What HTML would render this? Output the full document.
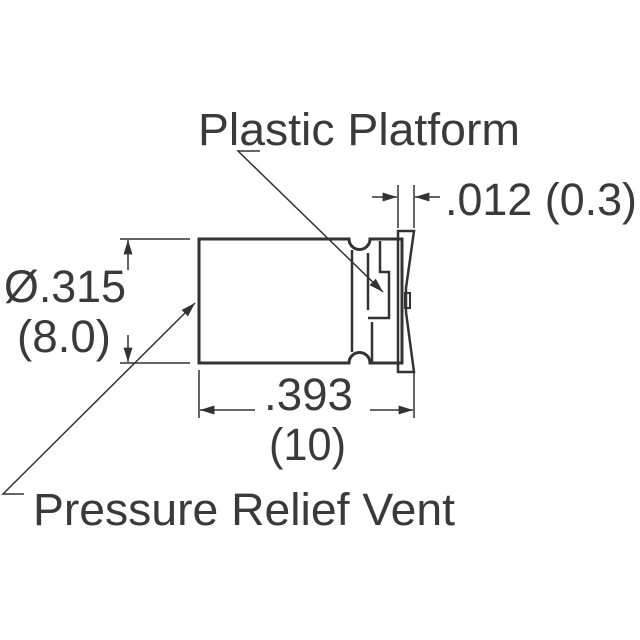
<!DOCTYPE html>
<html><head><style>body{margin:0;background:#fff}svg{display:block}text{font-family:"Liberation Sans",Arial,sans-serif;fill:#3a3a3a;font-size:45px}</style></head><body>
<svg width="640" height="640" viewBox="0 0 640 640" xmlns="http://www.w3.org/2000/svg">
<defs>
<marker id="b" viewBox="0 0 16 10" refX="16" refY="5" markerWidth="16" markerHeight="9" markerUnits="userSpaceOnUse" orient="auto"><path d="M0,0L16,5L0,10z" fill="#333"/></marker></defs>
<g stroke="#333" fill="none">
<path d="M199,239H349A10,10 0 0 0 370,239H402V363H370A10,10 0 0 0 349,363H199Z" stroke-width="3"/>
<path d="M352,250V352M368,253V310M380,241V272H389V318H368M372,322V363" stroke-width="2.5"/>
<path d="M398,231H414L406,288V312L414,372H398Z" stroke-width="2.5"/>
<rect x="405" y="293" width="5" height="15" stroke-width="2"/>
<g stroke-width="1.5">
<path d="M120,239H190M120,363H190"/>
<path d="M128,270V240" marker-end="url(#b)"/><path d="M128,335V362" marker-end="url(#b)"/>
<path d="M398,185V228M414,185V228"/>
<path d="M372,197H397" marker-end="url(#b)"/><path d="M440,197H415" marker-end="url(#b)"/>
<path d="M199,370V418M414,370V418"/>
<path d="M255,410H200" marker-end="url(#b)"/><path d="M370,410H413" marker-end="url(#b)"/>
<path d="M260,151H238L383,292" marker-end="url(#b)"/>
<path d="M24,494H3L195,303" marker-end="url(#b)"/>
</g></g>
<text x="198" y="145" textLength="322" lengthAdjust="spacingAndGlyphs">Plastic Platform</text>
<text x="445" y="215" textLength="192" lengthAdjust="spacingAndGlyphs">.012 (0.3)</text>
<text x="4" y="302" textLength="122" lengthAdjust="spacingAndGlyphs">Ø.315</text>
<text x="17" y="352" textLength="94" lengthAdjust="spacingAndGlyphs">(8.0)</text>
<text x="264" y="410" textLength="89" lengthAdjust="spacingAndGlyphs">.393</text>
<text x="269" y="460" textLength="77" lengthAdjust="spacingAndGlyphs">(10)</text>
<text x="33" y="525" textLength="422" lengthAdjust="spacingAndGlyphs">Pressure Relief Vent</text>
</svg></body></html>
